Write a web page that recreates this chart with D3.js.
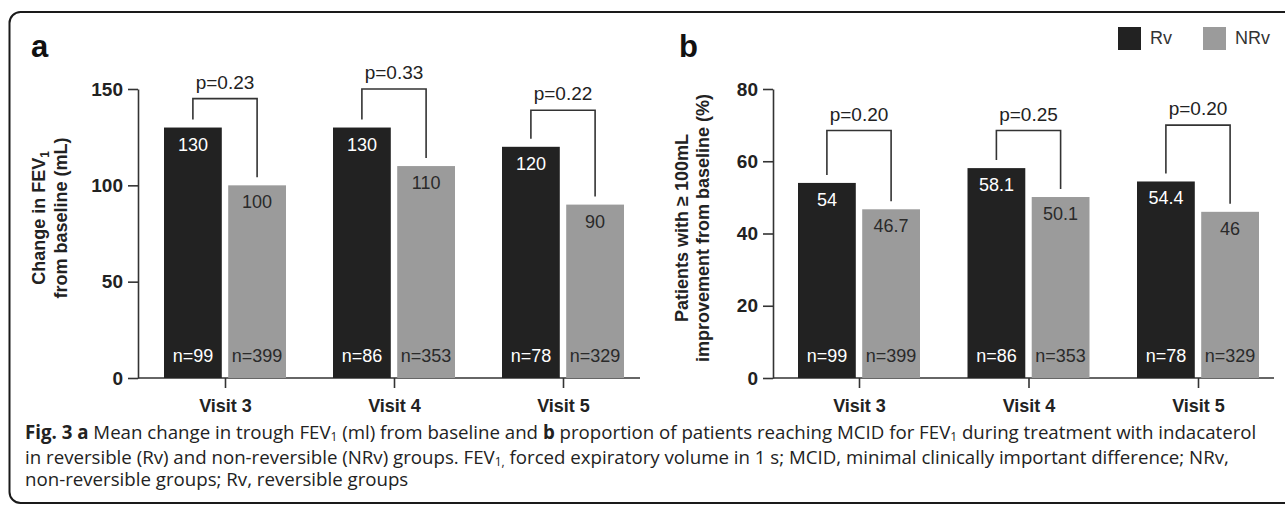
<!DOCTYPE html>
<html>
<head>
<meta charset="utf-8">
<script src="https://cdn.jsdelivr.net/npm/d3@7"></script>
<style>
  body { margin: 0; background: #fff; }
  svg { display: block; }
  text { font-family: "Liberation Sans", Arial, Helvetica, sans-serif; }
  .cap { font-family: "Open Sans", "Noto Sans", sans-serif; }
</style>
</head>
<body>
<script>
const W = 1285;
const H = 507;

// data
const visits = ["Visit 3", "Visit 4", "Visit 5"];
const groups = ["Rv", "NRv"];

const fevRv = [130, 130, 120];
const fevNRv = [100, 110, 90];
const fevP = ["0.23", "0.33", "0.22"];
const fevBracket = [145, 150, 139];

const mcidRv = [54, 58.1, 54.4];
const mcidNRv = [46.7, 50.1, 46];
const mcidP = ["0.20", "0.25", "0.20"];
const mcidBracket = [68.5, 68.5, 70];

const nRv = [99, 86, 78];
const nNRv = [399, 353, 329];

const fevTicks = [0, 50, 100, 150];
const mcidTicks = [0, 20, 40, 60, 80];

const colors = { Rv: "#222222", NRv: "#9b9b9b" };
const textOn = { Rv: "#ffffff", NRv: "#2a2a2a" };

const svg = d3.select("body").append("svg").attr("width", W).attr("height", H);

// frame
svg.append("rect")
  .attr("x", 9.5).attr("y", 12)
  .attr("width", 1300).attr("height", 491)
  .attr("rx", 11)
  .attr("fill", "none")
  .attr("stroke", "#1a1a1a")
  .attr("stroke-width", 2);

function drawPanel(o) {
  const g = svg.append("g");
  const y = d3.scaleLinear().domain([0, o.ticks[o.ticks.length - 1]]).range([378, 89]);
  const x = d3.scalePoint().domain(visits).range(o.xRange);
  const xIn = d3.scaleBand().domain(groups).range([-61, 61]).paddingInner(0.1);

  const rows = visits.map((v, i) => ({
    visit: v,
    Rv: o.rv[i], NRv: o.nrv[i],
    nRv: nRv[i], nNRv: nNRv[i],
    p: o.p[i], top: o.bracket[i]
  }));

  // y axis
  const ya = g.append("g")
    .attr("transform", `translate(${o.axisX},0)`)
    .call(d3.axisLeft(y).tickValues(o.ticks).tickSize(10).tickSizeOuter(0).tickPadding(5));
  ya.select(".domain").attr("stroke", "#333").attr("stroke-width", 1.6);
  ya.selectAll(".tick line").attr("stroke", "#333").attr("stroke-width", 1.6);
  ya.selectAll(".tick text")
    .attr("font-size", 19).attr("font-weight", "bold").attr("fill", "#222")
    .attr("font-family", "Liberation Sans, Arial, sans-serif");

  // x axis
  const xa = g.append("g")
    .attr("transform", `translate(0,${y(0)})`)
    .call(d3.axisBottom(x).tickSize(10).tickSizeOuter(0).tickPadding(11));
  xa.select(".domain").remove();
  xa.append("line")
    .attr("x1", o.axisX).attr("x2", o.axisEnd)
    .attr("stroke", "#333").attr("stroke-width", 1.6);
  xa.selectAll(".tick line").attr("stroke", "#333").attr("stroke-width", 1.6);
  xa.selectAll(".tick text")
    .attr("font-size", 18).attr("font-weight", "bold").attr("fill", "#222")
    .attr("font-family", "Liberation Sans, Arial, sans-serif");

  // bars
  const vg = g.selectAll(".visit").data(rows).join("g")
    .attr("transform", d => `translate(${x(d.visit)},0)`);

  vg.selectAll("rect")
    .data(d => groups.map(k => ({ k, v: d[k] })))
    .join("rect")
    .attr("x", d => xIn(d.k))
    .attr("width", xIn.bandwidth())
    .attr("y", d => y(d.v))
    .attr("height", d => y(0) - y(d.v))
    .attr("fill", d => colors[d.k]);

  vg.selectAll(".val")
    .data(d => groups.map(k => ({ k, v: d[k] })))
    .join("text")
    .attr("x", d => xIn(d.k) + xIn.bandwidth() / 2)
    .attr("y", d => y(d.v) + 23)
    .attr("text-anchor", "middle")
    .attr("font-size", 18)
    .attr("fill", d => textOn[d.k])
    .text(d => d.v);

  vg.selectAll(".n")
    .data(d => [{ k: "Rv", n: d.nRv }, { k: "NRv", n: d.nNRv }])
    .join("text")
    .attr("x", d => xIn(d.k) + xIn.bandwidth() / 2)
    .attr("y", y(0) - 16)
    .attr("text-anchor", "middle")
    .attr("font-size", 18)
    .attr("fill", d => textOn[d.k])
    .text(d => "n=" + d.n);

  // significance brackets
  const cx = k => xIn(k) + xIn.bandwidth() / 2;
  vg.append("path")
    .attr("fill", "none")
    .attr("stroke", "#333")
    .attr("stroke-width", 1.6)
    .attr("d", d => `M${cx("Rv")},${y(d.Rv) - 8}V${y(d.top)}H${cx("NRv")}V${y(d.NRv) - 8}`);

  vg.append("text")
    .attr("x", 0)
    .attr("y", d => y(d.top) - 10)
    .attr("text-anchor", "middle")
    .attr("font-size", 19)
    .attr("fill", "#222")
    .text(d => "p=" + d.p);

  // panel letter
  g.append("text")
    .attr("x", o.letterX).attr("y", 57)
    .attr("font-size", 31).attr("font-weight", "bold").attr("fill", "#111")
    .text(o.letter);

  // y title
  o.title.forEach((line, i) => {
    const t = g.append("text")
      .attr("transform", `translate(${o.titleX[i]},${o.titleY}) rotate(-90)`)
      .attr("text-anchor", "middle")
      .attr("font-size", 18).attr("font-weight", "bold").attr("fill", "#222");
    line.forEach(part => {
      if (part.sub) {
        t.append("tspan").attr("font-size", 12).attr("dy", 4).text(part.t);
        t.append("tspan").attr("dy", -4).text("");
      } else {
        t.append("tspan").text(part.t);
      }
    });
  });
}

drawPanel({
  letter: "a", letterX: 31,
  axisX: 138, axisEnd: 640, xRange: [225, 563],
  ticks: fevTicks, rv: fevRv, nrv: fevNRv, p: fevP, bracket: fevBracket,
  title: [[{ t: "Change in FEV" }, { t: "1", sub: true }], [{ t: "from baseline (mL)" }]],
  titleX: [45, 67], titleY: 218
});

drawPanel({
  letter: "b", letterX: 679,
  axisX: 773, axisEnd: 1274, xRange: [859, 1198],
  ticks: mcidTicks, rv: mcidRv, nrv: mcidNRv, p: mcidP, bracket: mcidBracket,
  title: [[{ t: "Patients with \u2265 100mL" }], [{ t: "improvement from baseline (%)" }]],
  titleX: [688, 709], titleY: 228
});

// legend
const lg = svg.append("g");
const legendX = d3.scaleOrdinal().domain(groups).range([1118, 1203]);
groups.forEach(k => {
  lg.append("rect")
    .attr("x", legendX(k)).attr("y", 27)
    .attr("width", 23).attr("height", 23)
    .attr("fill", colors[k]);
  lg.append("text")
    .attr("x", legendX(k) + 32).attr("y", 44)
    .attr("font-size", 18).attr("fill", "#333")
    .text(k);
});

// caption
const capLines = [
  [{ t: "Fig. 3 a", b: 1 }, { t: " Mean change in trough FEV" }, { t: "1", s: 1 }, { t: " (ml) from baseline and " },
   { t: "b", b: 1 }, { t: " proportion of patients reaching MCID for FEV" }, { t: "1", s: 1 },
   { t: " during treatment with indacaterol" }],
  [{ t: "in reversible (Rv) and non-reversible (NRv) groups. FEV" }, { t: "1,", s: 1 },
   { t: " forced expiratory volume in 1 s; MCID, minimal clinically important difference; NRv," }],
  [{ t: "non-reversible groups; Rv, reversible groups" }]
];
const capY = [439, 463.5, 486];
const capTexts = capLines.map((parts, i) => {
  const t = svg.append("text")
    .attr("class", "cap")
    .attr("x", 25).attr("y", capY[i])
    .attr("font-size", 16).attr("fill", "#222");
  let prevSub = false;
  parts.forEach(p => {
    const ts = t.append("tspan").text(p.t);
    if (p.b) ts.attr("font-weight", "bold");
    if (p.s) ts.attr("font-size", "0.64em").attr("dy", 2);
    else if (prevSub) ts.attr("dy", -2);
    prevSub = !!p.s;
  });
  return t;
});
// fit the first line to the width of the figure
const len = capTexts[0].node().getComputedTextLength();
const fs = 16 * 1232 / len;
capTexts.forEach(t => t.attr("font-size", fs));
</script>
</body>
</html>
